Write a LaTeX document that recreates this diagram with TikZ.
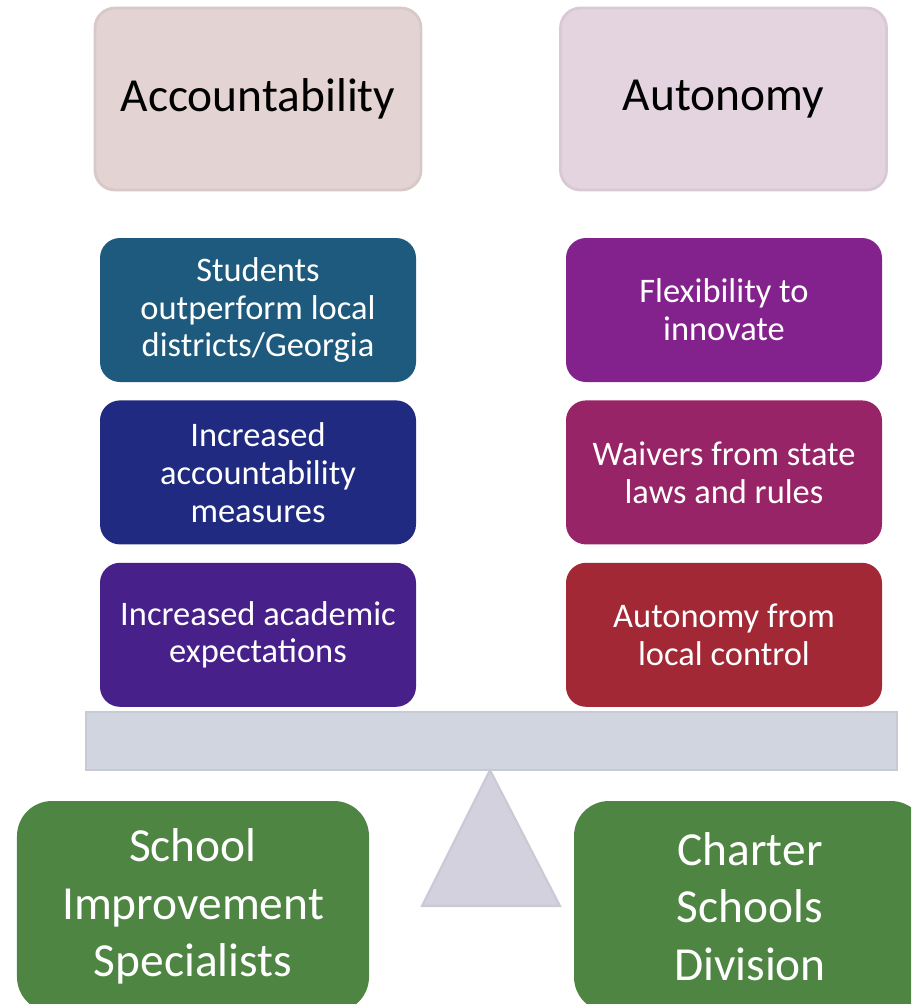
\documentclass[tikz,border=0pt]{standalone}
\usepackage{fontspec}
\setmainfont{Carlito}
\usepackage{tikz}
\usetikzlibrary{positioning}
\definecolor{accfill}{HTML}{E3D3D3}
\definecolor{autfill}{HTML}{E3D4DF}
\definecolor{colA}{HTML}{1D5A7E}
\definecolor{colB}{HTML}{202A80}
\definecolor{colC}{HTML}{47208A}
\definecolor{colD}{HTML}{84228D}
\definecolor{colE}{HTML}{972466}
\definecolor{colF}{HTML}{A22836}
\definecolor{beamfill}{HTML}{D1D5DF}
\definecolor{pivotfill}{HTML}{D4D1DF}
\definecolor{groupfill}{HTML}{4E8542}
\tikzset{
node distance=0.17cm, % gap between the stacked boxes
headbox/.style={rounded corners=0.2cm, minimum width=3.26cm, minimum height=1.82cm, draw=#1!95!black, line width=0.8pt, fill=#1, font=\fontsize{13.5}{16}\selectfont}, % the two headings
itembox/.style={rounded corners=0.2cm, minimum width=3.16cm, minimum height=1.44cm, fill=#1, text=white, align=center, font=\fontsize{9.8}{10.8}\selectfont}, % the six items
groupbox/.style={rounded corners=0.35cm, minimum width=3.52cm, minimum height=2.11cm, fill=groupfill, text=white, align=center, font=\fontsize{13.5}{16.4}\selectfont}, % the two bottom boxes
}
\begin{document}
\begin{tikzpicture}
            \clip (0,0) rectangle (9.11,-10.04);
            \node[headbox=accfill] (acc) at (2.58,-0.99) {Accountability};
            \node[headbox=autfill] (aut) at (7.235,-0.99) {Autonomy};
            % left column
            \node[itembox=colA] (perf) at (2.58,-3.10) {Students\\outperform local\\districts/Georgia};
            \node[itembox=colB, below=of perf] (meas) {Increased\\accountability\\measures};
            \node[itembox=colC, below=of meas] (expe) {Increased academic\\expectations};
            % right column
            \node[itembox=colD] (flex) at (7.24,-3.10) {Flexibility to\\innovate};
            \node[itembox=colE, below=of flex] (waiv) {Waivers from state\\laws and rules};
            \node[itembox=colF, below=of waiv] (ctrl) {Autonomy from\\local control};
            % beam and pivot
            \node[draw=beamfill!95!black, fill=beamfill, minimum width=8.11cm, minimum height=0.58cm, line width=0.8pt] (beam) at (4.915,-7.41) {};
            \coordinate (apex) at (4.90,-7.70);
            \draw[draw=pivotfill!96!black, fill=pivotfill, line width=0.6pt] (apex) -- (5.60,-9.06) -- (4.22,-9.06) -- cycle;
            % bottom boxes
            \node[groupbox] (sis) at (1.93,-9.065) {School\\Improvement\\Specialists};
            \node[groupbox] (csd) at (7.50,-9.065) {Charter\\Schools\\Division};
            \end{tikzpicture}
\end{document}
